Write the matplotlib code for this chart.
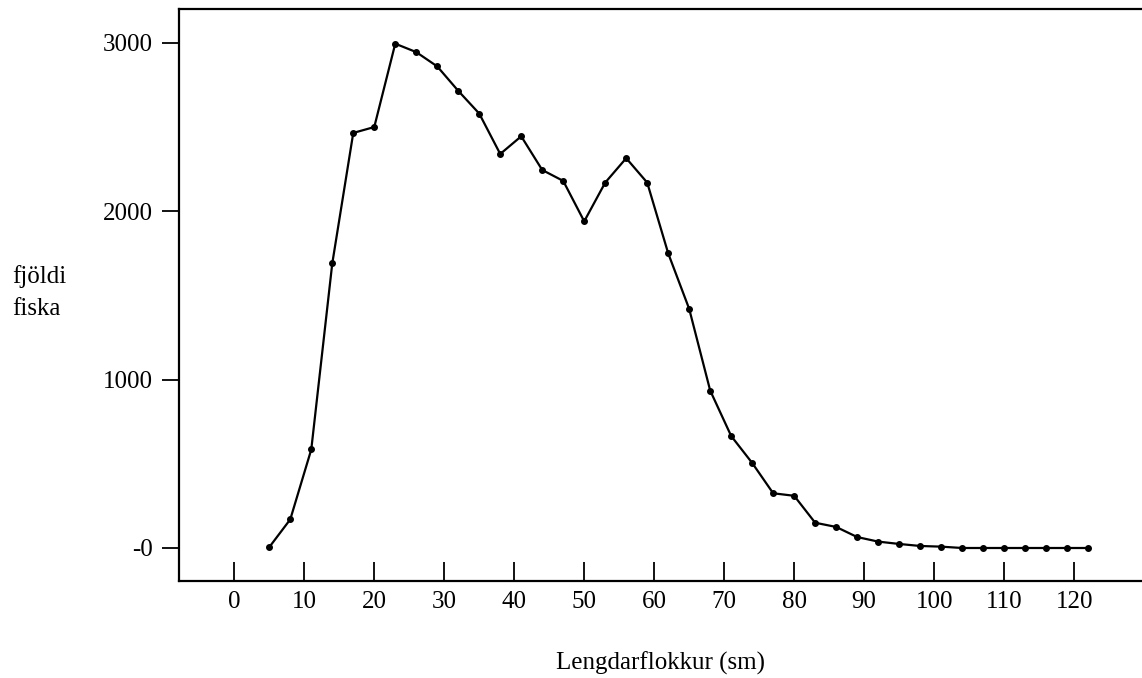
import matplotlib
matplotlib.use('Agg')
import matplotlib.pyplot as plt

# length classes (cm) and number of fish
lengd = [5, 8, 11, 14, 17, 20, 23, 26, 29, 32,
         35, 38, 41, 44, 47, 50, 53, 56, 59, 62,
         65, 68, 71, 74, 77, 80, 83, 86, 89, 92,
         95, 98, 101, 104, 107, 110, 113, 116, 119, 122]
fjoldi = [5, 170, 585, 1690, 2465, 2500, 2995, 2945, 2860, 2715,
          2580, 2340, 2445, 2245, 2180, 1940, 2170, 2315, 2170, 1750,
          1420, 935, 665, 505, 325, 310, 150, 125, 65, 38,
          24, 12, 8, 0, 0, 0, 0, 0, 0, 0]

xticks = [0, 10, 20, 30, 40, 50, 60, 70, 80, 90, 100, 110, 120]
yticks = [0, 1000, 2000, 3000]
ytick_labels = ['-0', '1000', '2000', '3000']

plt.rcParams['font.family'] = ['Liberation Serif', 'DejaVu Serif']

fig = plt.figure(figsize=(11.42, 6.78), dpi=100)
ax = fig.add_axes([179 / 1142, 97 / 678, 1 - 179 / 1142, 572 / 678])

ax.plot(lengd, fjoldi, color='black', lw=1.6, marker='o', markersize=4)

ax.set_xlim(-7.9, 129.7)
ax.set_ylim(-196, 3201)
ax.set_xticks(xticks)
ax.set_xticklabels([str(t) for t in xticks])
ax.set_yticks(yticks)
ax.set_yticklabels(ytick_labels)

ax.tick_params(axis='x', direction='in', length=13.5, width=1.3, labelsize=18, pad=7)
ax.tick_params(axis='y', direction='out', length=12, width=1.3, labelsize=18, pad=7)
ax.spines['right'].set_visible(False)
for s in ['left', 'bottom', 'top']:
    ax.spines[s].set_linewidth(1.6)

fig.text(660 / 1142, 1 - 663 / 678, 'Lengdarflokkur (sm)', fontsize=18, ha='center', va='center')
fig.text(12 / 1142, 1 - 283 / 678, 'fjöldi', fontsize=18, ha='left', va='baseline')
fig.text(12 / 1142, 1 - 315 / 678, 'fiska', fontsize=18, ha='left', va='baseline')

plt.savefig('out.png', dpi=100)
